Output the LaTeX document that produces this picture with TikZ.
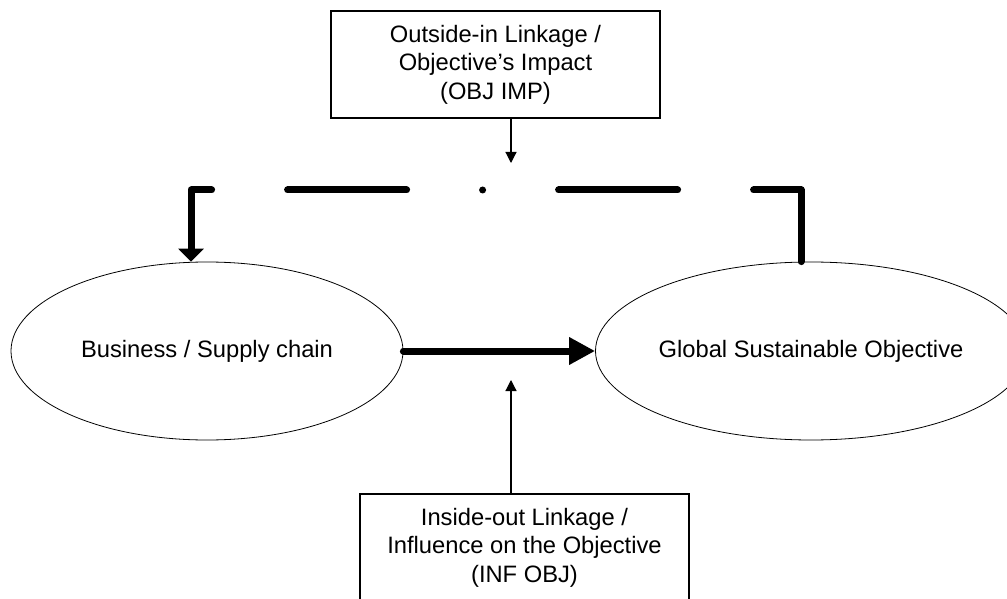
\documentclass[tikz,border=0pt]{standalone}
\usepackage{fontspec}
\setmainfont{Liberation Sans}
\usetikzlibrary{shapes.geometric,arrows.meta}
\begin{document}
\begin{tikzpicture}[x=0.75pt,y=-0.75pt,
  labelfont/.style={font=\fontsize{17.8}{21.4}\selectfont},
  box/.style={draw=black,line width=0.9pt,rectangle,minimum width=246.75pt,minimum height=80.25pt,inner sep=0pt,align=center,labelfont},
  oval/.style={draw=black,line width=0.6pt,ellipse,minimum width=294pt,minimum height=133.5pt,inner sep=0pt,labelfont},
  thinarrow/.style={line width=0.9pt,-{Triangle[length=8.25pt,width=8.25pt]}},
  flowarrow/.style={line width=5.25pt,line cap=round,-{Triangle[length=19.5pt,width=19.5pt]}},
  feedback/.style={line width=5.25pt,line cap=round,line join=round,
    dash pattern=on 89.25pt off 57pt on 89.25pt off 57pt on 0pt off 57pt,
    -{Triangle[length=9.75pt,width=18.75pt]}}
]
\useasboundingbox (0,0) rectangle (1007,599);

% labelled boxes
\node[box] (imp) at (495.5,64.5) {Outside-in Linkage /\\Objective’s Impact\\(OBJ IMP)};
\node[box] (inf) at (524.5,547.5) {Inside-out Linkage /\\Influence on the Objective\\(INF OBJ)};

% the two ovals
\node[oval] (biz) at (207,351) {Business / Supply chain};
\node[oval] (goal) at (811,351) {Global Sustainable Objective};

% helper points for the connectors
\coordinate (linkx) at (511,0);
\coordinate (impend) at (511,163);
\coordinate (infend) at (511,380);
\coordinate (cornerR) at (801,190);
\coordinate (cornerL) at (191,190);

\draw[thinarrow] (imp.south -| linkx) -- (impend);
\draw[thinarrow] (inf.north -| linkx) -- (infend);
\draw[flowarrow] (biz.east) -- (goal.west);
\draw[feedback] (goal.north -| cornerR) -- (cornerR) -- (cornerL) -- (biz.north -| cornerL);
\end{tikzpicture}
\end{document}
